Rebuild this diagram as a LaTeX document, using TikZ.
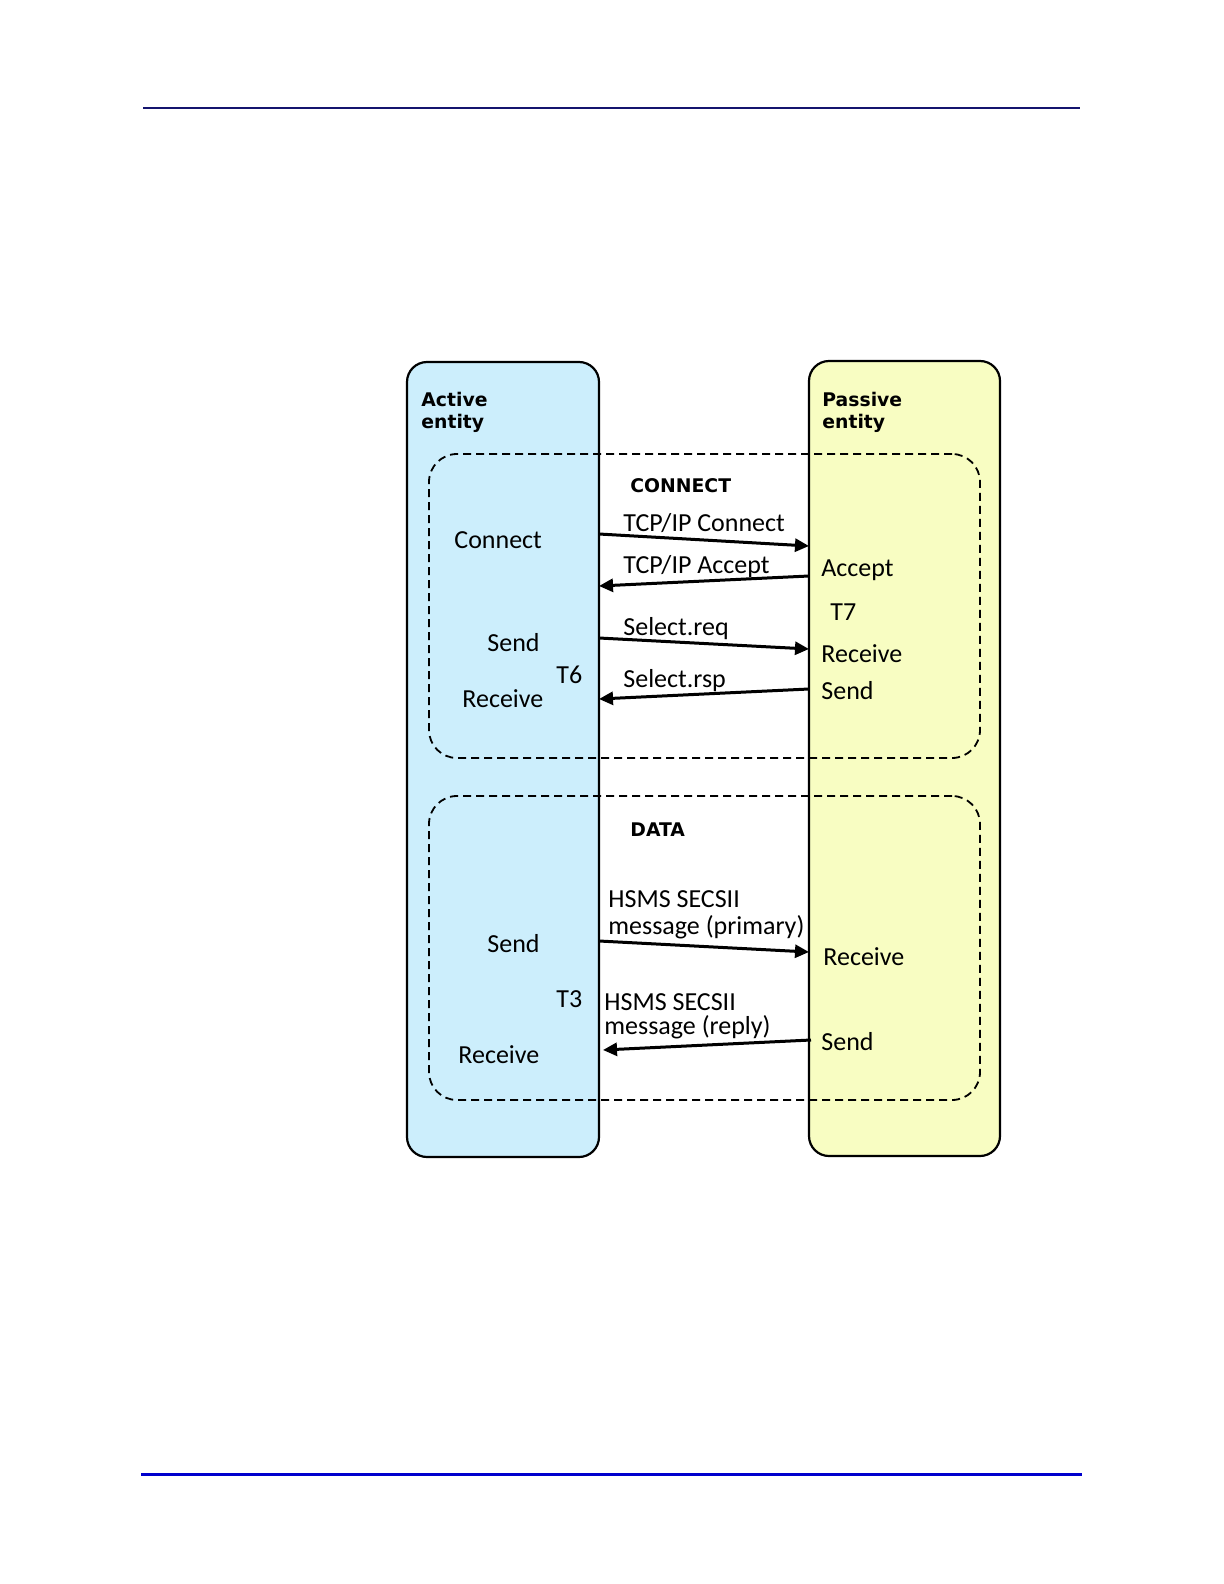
\documentclass[tikz,border=0pt]{standalone}
\usepackage{fontspec}
\setmainfont{Carlito}
\newfontfamily\hdfont{DejaVu Sans}
\usetikzlibrary{arrows.meta}
\definecolor{colblue}{RGB}{204,238,252}
\definecolor{colyellow}{RGB}{248,253,194}
\definecolor{toprule}{RGB}{20,20,110}
\definecolor{botrule}{RGB}{0,0,205}
\begin{document}
\begin{tikzpicture}[x=0.5pt,y=-0.5pt,
  column/.style={draw=black,line width=1.1pt,rounded corners=10pt},
  phase/.style={draw=black,line width=0.9pt,dash pattern=on 4pt off 2.5pt,rounded corners=14pt},
  lbl/.style={font=\fontsize{13}{13.5}\selectfont,inner sep=0pt,anchor=mid west,yshift=-1.5pt},
  hd/.style={font=\hdfont\bfseries\fontsize{9.4}{11}\selectfont,inner sep=0pt,anchor=north west,align=left},
  phasehd/.style={font=\hdfont\bfseries\fontsize{9.4}{11}\selectfont,inner sep=0pt,anchor=west},
  msg/.style={-{Triangle[length=7pt,width=6.5pt]},line width=1.5pt,shorten >=0pt}]
\useasboundingbox (0,0) rectangle (1224,1584);
\fill[white] (0,0) rectangle (1224,1584);
% page rules
\draw[toprule,line width=0.7pt] (143,108) -- (1080,108);
\draw[botrule,line width=1.5pt] (141,1474) -- (1082,1474);
% columns
\node[column,fill=colblue,minimum width=96pt,minimum height=397.5pt,inner sep=0pt] (active) at (503,759.5) {};
\node[column,fill=colyellow,minimum width=95.5pt,minimum height=397.5pt,inner sep=0pt] (passive) at (904.5,758.5) {};
% phases
\node[phase,minimum width=275.5pt,minimum height=152pt,inner sep=0pt] (connect) at (704.5,606) {};
\node[phase,minimum width=275.5pt,minimum height=152pt,inner sep=0pt] (data) at (704.5,948) {};
% headers
\node[hd] (acthd) at (421,392) {Active\\entity};
\node[hd] (pashd) at (822,392) {Passive\\entity};
\node[phasehd] (conhd) at (630,486) {CONNECT};
\node[phasehd] (datahd) at (630,830) {DATA};
% connect phase labels
\node[lbl] (lconnect) at (454,541) {Connect};
\node[lbl] (lsend1) at (487,644) {Send};
\node[lbl] (lt6) at (556,676) {T6};
\node[lbl] (lrecv1) at (462,700) {Receive};
\node[lbl] (raccept) at (821,569) {Accept};
\node[lbl] (rt7) at (830,613) {T7};
\node[lbl] (rrecv1) at (821,655) {Receive};
\node[lbl] (rsend1) at (821,692) {Send};
\node[lbl] (mtcpc) at (623,524) {TCP/IP Connect};
\node[lbl] (mtcpa) at (623,566) {TCP/IP Accept};
\node[lbl] (msreq) at (623,628) {Select.req};
\node[lbl] (msrsp) at (623,680) {Select.rsp};
% data phase labels
\node[lbl] (lsend2) at (487,945) {Send};
\node[lbl] (lt3) at (556,1000) {T3};
\node[lbl] (lrecv2) at (458,1056) {Receive};
\node[lbl] (rrecv2) at (823,958) {Receive};
\node[lbl] (rsend2) at (821,1043) {Send};
\node[lbl,align=left,anchor=north west] (mprim) at (608,887) {HSMS SECSII\\message (primary)};
\node[lbl,align=left,anchor=north west,font=\fontsize{13}{12.2}\selectfont] (mrep) at (604,990) {HSMS SECSII\\message (reply)};
% arrow end points
\coordinate (a1s) at (599,534);  \coordinate (a1e) at (809,546);
\coordinate (a2s) at (809,576);  \coordinate (a2e) at (599,586);
\coordinate (a3s) at (599,638);  \coordinate (a3e) at (809,649);
\coordinate (a4s) at (809,689);  \coordinate (a4e) at (599,699);
\coordinate (a5s) at (599,941);  \coordinate (a5e) at (809,952);
\coordinate (a6s) at (811,1040); \coordinate (a6e) at (603,1050);
\draw[msg] (a1s) -- (a1e);
\draw[msg] (a2s) -- (a2e);
\draw[msg] (a3s) -- (a3e);
\draw[msg] (a4s) -- (a4e);
\draw[msg] (a5s) -- (a5e);
\draw[msg] (a6s) -- (a6e);
\end{tikzpicture}
\end{document}
